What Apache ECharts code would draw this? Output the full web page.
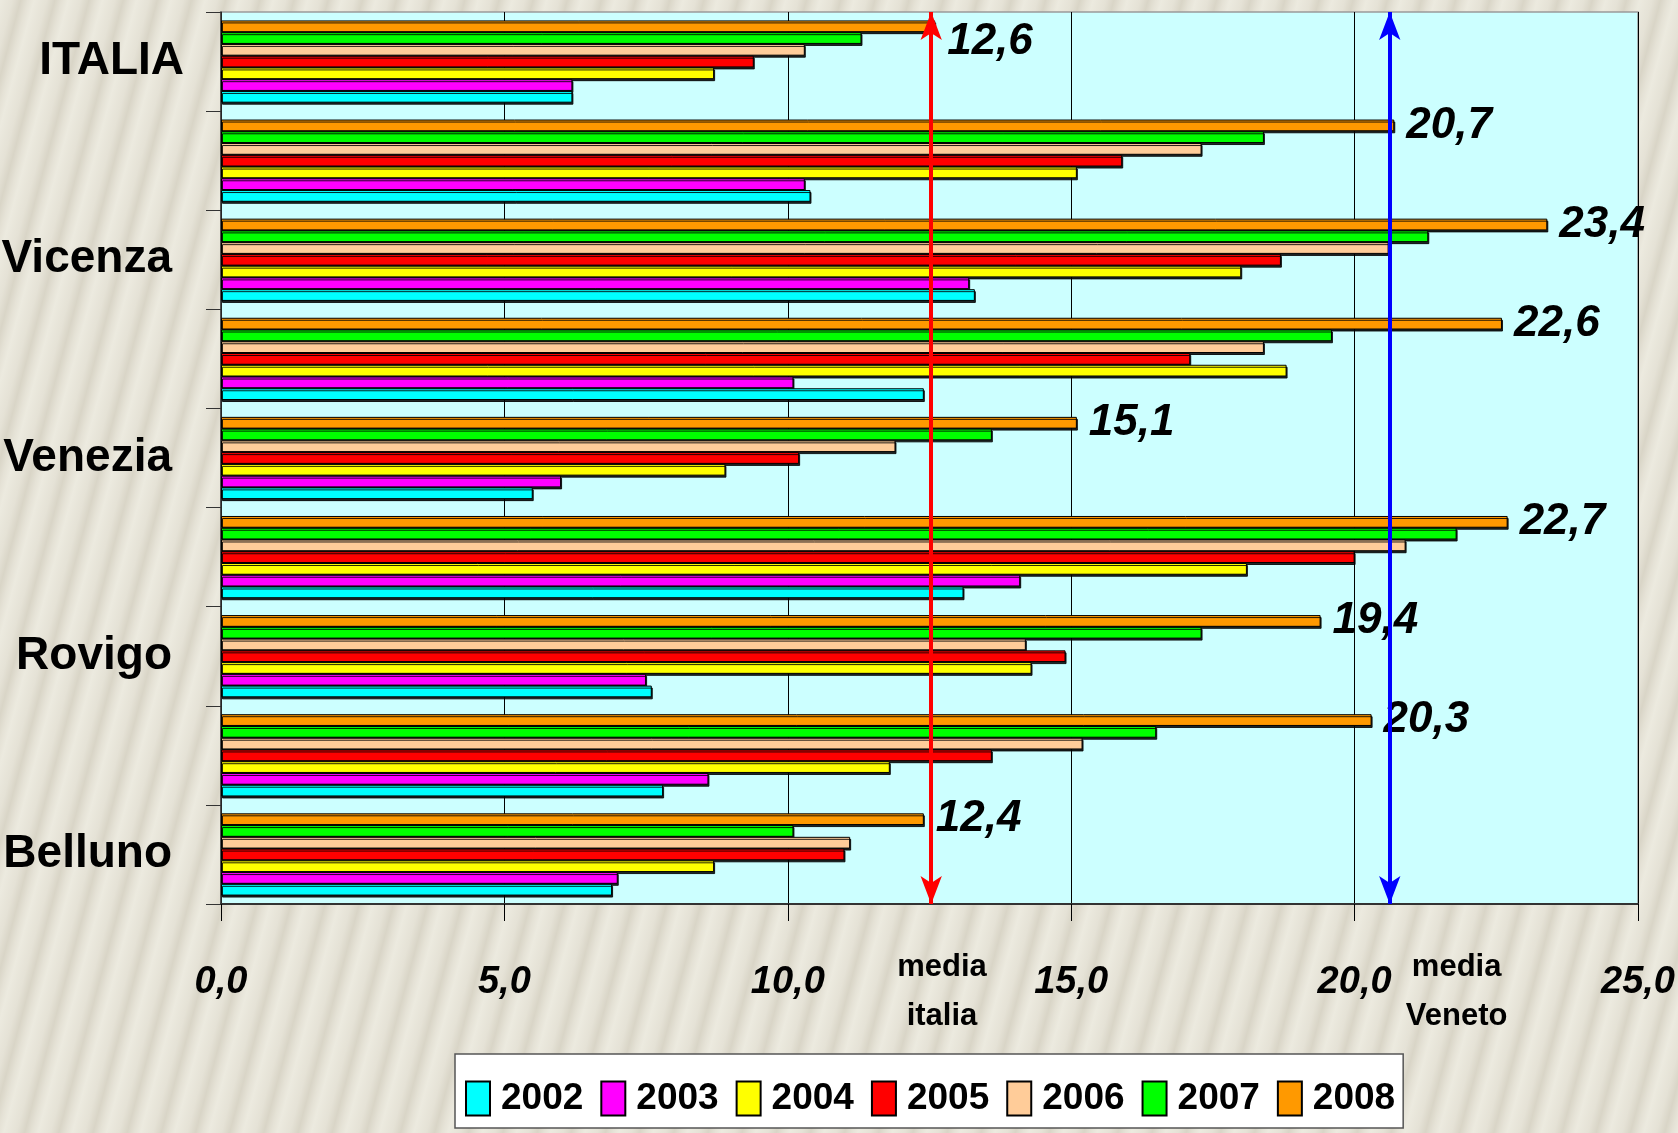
<!DOCTYPE html>
<html>
<head>
<meta charset="utf-8">
<script src="https://cdn.jsdelivr.net/npm/echarts@6/dist/echarts.min.js"></script>
<style>
  html, body { margin: 0; padding: 0; }
  body {
    width: 1678px; height: 1133px; overflow: hidden;
    background: repeating-linear-gradient(105deg, #eceadf 0px, #e5e2d6 12px, #d9d5c7 20px, #e5e2d6 27px, #eceadf 33px);
  }
  #chart { width: 1678px; height: 1133px; }
</style>
</head>
<body>
<div id="chart"></div>
<script>
// categories bottom -> top
const categories = ['Belluno', 'Padova', 'Rovigo', 'Treviso', 'Venezia', 'Verona', 'Vicenza', 'Veneto', 'ITALIA']
const years = ['2002', '2003', '2004', '2005', '2006', '2007', '2008']
const colors = ['#00ffff', '#ff00ff', '#ffff00', '#ff0000', '#ffcc99', '#00ff00', '#ff9900']

const v2002 = [6.9, 7.8, 7.6, 13.1, 5.5, 12.4, 13.3, 10.4, 6.2]
const v2003 = [7.0, 8.6, 7.5, 14.1, 6.0, 10.1, 13.2, 10.3, 6.2]
const v2004 = [8.7, 11.8, 14.3, 18.1, 8.9, 18.8, 18.0, 15.1, 8.7]
const v2005 = [11.0, 13.6, 14.9, 20.0, 10.2, 17.1, 18.7, 15.9, 9.4]
const v2006 = [11.1, 15.2, 14.2, 20.9, 11.9, 18.4, 20.6, 17.3, 10.3]
const v2007 = [10.1, 16.5, 17.3, 21.8, 13.6, 19.6, 21.3, 18.4, 11.3]
const v2008 = [12.4, 20.3, 19.4, 22.7, 15.1, 22.6, 23.4, 20.7, 12.6]
const values = [v2002, v2003, v2004, v2005, v2006, v2007, v2008]

// average lines drawn as arrows
const mediaLines = [
  { value: 12.53, color: '#ff0000', text: 'media\nitalia', textAt: 12.72 },
  { value: 20.62, color: '#0000ff', text: 'media\nVeneto', textAt: 21.8 }
]

const xTicks = { min: 0, max: 25, interval: 5 }

const FONT = "'Liberation Sans', Arial, sans-serif"
const comma = v => Number(v).toFixed(1).replace('.', ',')

const barStyle = c => ({
  color: c, borderColor: '#000', borderWidth: 1,
  shadowColor: 'rgba(0,0,0,0.85)', shadowOffsetX: 1, shadowOffsetY: 2, shadowBlur: 0
})

// 2008 goes first so it sits at the top of every group
const series = years.map((y, i) => ({ y, i })).reverse().map(({ y, i }) => {
  const s = {
    name: y, type: 'bar', barGap: '0%', barCategoryGap: '17%',
    itemStyle: barStyle(colors[i]),
    data: values[i].slice()
  }
  if (y === '2008') {
    s.label = {
      show: true, position: 'right', distance: 12, formatter: p => comma(p.value),
      fontFamily: FONT, fontSize: 44, fontWeight: 'bold', fontStyle: 'italic', color: '#000'
    }
    s.data = values[i].map((v, k) => categories[k] === 'ITALIA' ? { value: v, label: { offset: [0, 16] } } : v)
    s.markLine = {
      silent: true, symbol: ['arrow', 'arrow'], symbolSize: [16, 28],
      label: { show: false },
      data: mediaLines.map(m => ({
        xAxis: m.value,
        lineStyle: { color: m.color, width: 4, type: 'solid' },
        itemStyle: { color: m.color }
      }))
    }
  }
  return s
})

const chart = echarts.init(document.getElementById('chart'))
chart.setOption({
  backgroundColor: 'transparent',
  animation: false,
  grid: {
    left: 221, top: 12, right: 40, bottom: 229, containLabel: false, outerBoundsMode: 'none',
    show: true, backgroundColor: '#ccffff', borderColor: '#9a9a9a', borderWidth: 1.5
  },
  legend: {
    data: years, left: 455, top: 1054, orient: 'horizontal',
    backgroundColor: '#fff', borderColor: '#555', borderWidth: 1.5,
    padding: [26, 8, 11, 10], itemWidth: 24, itemHeight: 34, itemGap: 17,
    icon: 'rect',
    textStyle: { fontFamily: FONT, fontSize: 37, fontWeight: 'bold', color: '#000', padding: [0, 0, 0, 6] }
  },
  xAxis: {
    type: 'value', min: xTicks.min, max: xTicks.max, interval: xTicks.interval,
    axisLine: { show: true, lineStyle: { color: '#333', width: 2 } },
    axisTick: { show: true, length: 17, lineStyle: { color: '#000' } },
    splitLine: { show: true, lineStyle: { color: '#000', width: 1 } },
    axisLabel: {
      margin: 60, formatter: comma, color: '#000',
      fontFamily: FONT, fontSize: 38, fontWeight: 'bold', fontStyle: 'italic'
    }
  },
  yAxis: {
    type: 'category', data: categories,
    axisLine: { show: true, lineStyle: { color: '#333', width: 1.5 } },
    axisTick: { show: true, interval: 0, length: 15, lineStyle: { color: '#333' } },
    axisLabel: {
      interval: 1, margin: 37, color: '#000',
      fontFamily: FONT, fontSize: 46, fontWeight: 'bold',
      formatter: v => v === 'ITALIA' ? v : '{p|' + v + '}',
      rich: { p: { padding: [0, 12, 0, 0] } }
    }
  },
  series
})

// "media" captions under the axis, placed through the x scale
chart.setOption({
  graphic: mediaLines.map(m => ({
    type: 'text',
    x: chart.convertToPixel({ xAxisIndex: 0 }, m.textAt),
    y: 992,
    style: {
      text: m.text, fill: '#000', align: 'center', verticalAlign: 'middle',
      font: 'bold 31px ' + FONT, lineHeight: 49
    }
  }))
})
</script>
</body>
</html>
